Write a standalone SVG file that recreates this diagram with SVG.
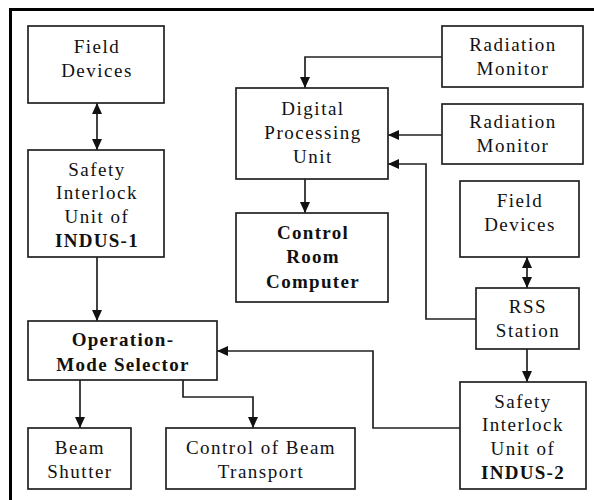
<svg xmlns="http://www.w3.org/2000/svg" width="594" height="500" viewBox="0 0 594 500">
<style>
.box{fill:#fff;stroke:#222;stroke-width:1.7}
.t{font-family:"Liberation Serif","Times New Roman",serif;font-size:19px;letter-spacing:1.5px;fill:#111;text-anchor:middle}
.b{font-weight:bold;letter-spacing:1.3px}
.c{fill:none;stroke:#222;stroke-width:1.7}
</style>
<defs>
<marker id="ah" markerUnits="userSpaceOnUse" markerWidth="11" markerHeight="11" refX="11" refY="5.5" orient="auto-start-reverse" viewBox="0 0 11 11">
<path d="M0,0.5 L11,5.5 L0,10.5 z" fill="#111"/>
</marker>
</defs>
<rect x="0" y="0" width="594" height="500" fill="#fff"/>
<path d="M10.5,500 V9.5 H594" fill="none" stroke="#000" stroke-width="3"/>
<g id="connectors">
<path class="c" d="M97,103 V150" marker-start="url(#ah)" marker-end="url(#ah)"/>
<path class="c" d="M97,257 V321" marker-end="url(#ah)"/>
<path class="c" d="M80,380 V428" marker-end="url(#ah)"/>
<path class="c" d="M183,380 V397 H253 V428" marker-end="url(#ah)"/>
<path class="c" d="M442,57 H305 V88" marker-end="url(#ah)"/>
<path class="c" d="M442,135 H388" marker-end="url(#ah)"/>
<path class="c" d="M305,179 V213" marker-end="url(#ah)"/>
<path class="c" d="M527,257 V288" marker-start="url(#ah)" marker-end="url(#ah)"/>
<path class="c" d="M476,319 H426 V164 H388" marker-end="url(#ah)"/>
<path class="c" d="M527,349 V382" marker-end="url(#ah)"/>
<path class="c" d="M460,428 H373 V351 H217" marker-end="url(#ah)"/>
</g>
<g id="fd1"><rect class="box" x="28" y="26" width="136" height="77"/>
<text class="t" x="97" y="53">Field</text><text class="t" x="97" y="77">Devices</text></g>
<g id="siu1"><rect class="box" x="28" y="150" width="136" height="107"/>
<text class="t" x="97" y="176">Safety</text><text class="t" x="97" y="199">Interlock</text><text class="t" x="97" y="223">Unit of</text><text class="t b" x="97" y="247">INDUS-1</text></g>
<g id="oms"><rect class="box" x="28" y="321" width="189" height="59"/>
<text class="t b" x="123" y="346">Operation-</text><text class="t b" x="123" y="371">Mode Selector</text></g>
<g id="bs"><rect class="box" x="28" y="428" width="103" height="61"/>
<text class="t" x="80" y="454">Beam</text><text class="t" x="80" y="478">Shutter</text></g>
<g id="cbt"><rect class="box" x="166" y="428" width="189" height="61"/>
<text class="t" x="261" y="454">Control of Beam</text><text class="t" x="261" y="478">Transport</text></g>
<g id="dpu"><rect class="box" x="236" y="88" width="152" height="91"/>
<text class="t" x="313" y="115">Digital</text><text class="t" x="313" y="139">Processing</text><text class="t" x="313" y="163">Unit</text></g>
<g id="crc"><rect class="box" x="236" y="213" width="152" height="89"/>
<text class="t b" x="313" y="239">Control</text><text class="t b" x="313" y="263">Room</text><text class="t b" x="313" y="288">Computer</text></g>
<g id="rm1"><rect class="box" x="442" y="26" width="141" height="61"/>
<text class="t" x="513" y="51">Radiation</text><text class="t" x="513" y="75">Monitor</text></g>
<g id="rm2"><rect class="box" x="442" y="104" width="141" height="60"/>
<text class="t" x="513" y="128">Radiation</text><text class="t" x="513" y="152">Monitor</text></g>
<g id="fd2"><rect class="box" x="460" y="181" width="119" height="76"/>
<text class="t" x="520" y="207">Field</text><text class="t" x="520" y="231">Devices</text></g>
<g id="rss"><rect class="box" x="476" y="288" width="103" height="61"/>
<text class="t" x="528" y="313">RSS</text><text class="t" x="528" y="337">Station</text></g>
<g id="siu2"><rect class="box" x="460" y="382" width="126" height="107"/>
<text class="t" x="523" y="408">Safety</text><text class="t" x="523" y="431">Interlock</text><text class="t" x="523" y="455">Unit of</text><text class="t b" x="523" y="479">INDUS-2</text></g>
</svg>
